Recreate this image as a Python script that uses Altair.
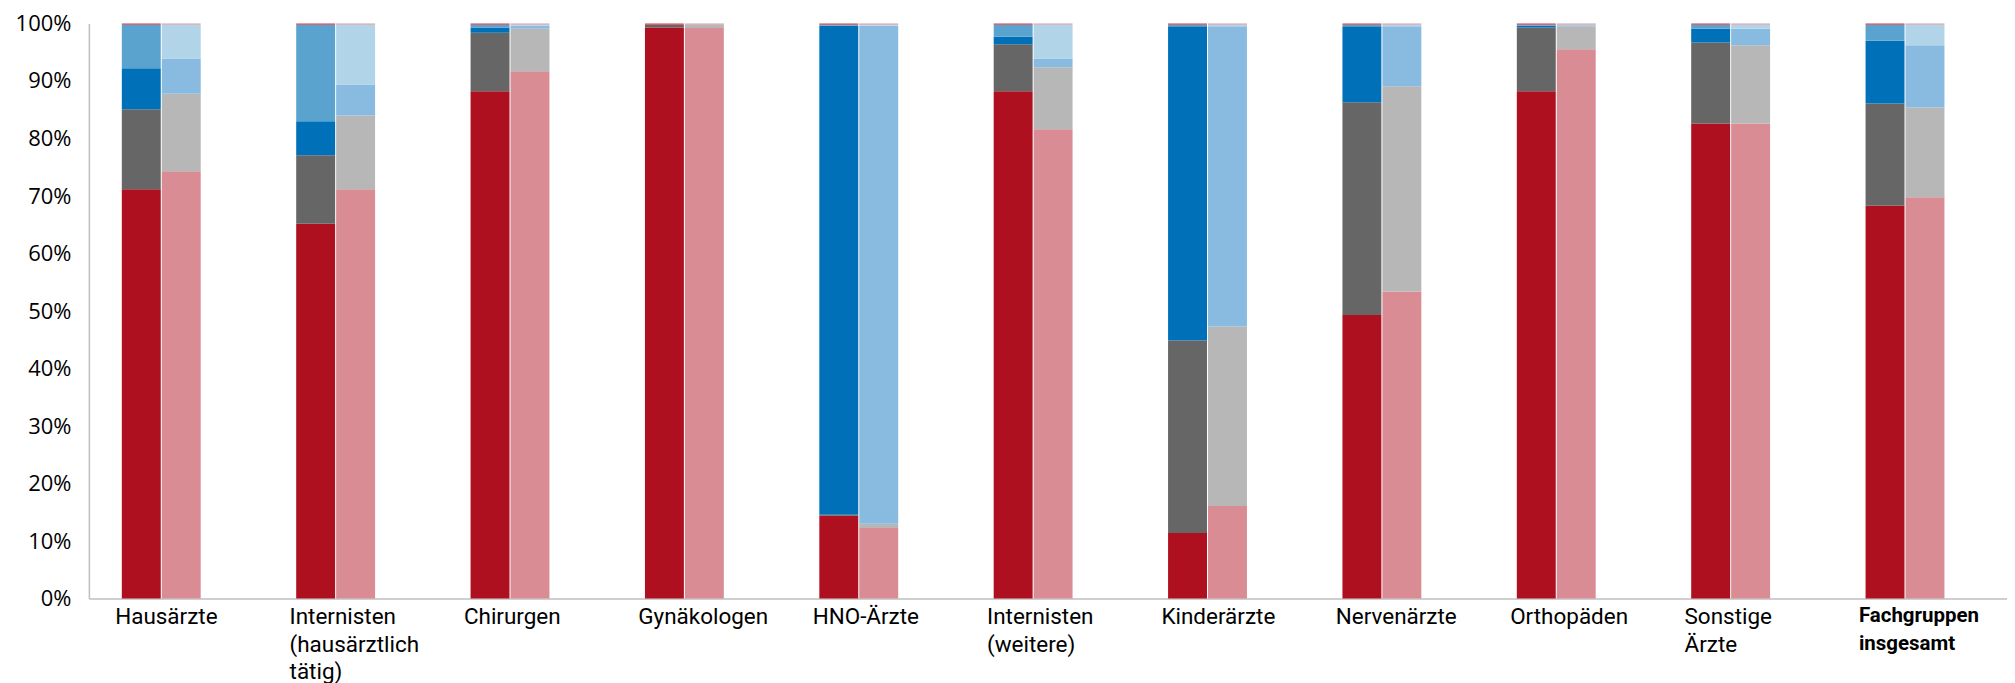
import altair as alt
import pandas as pd

categories = ["Hausärzte", "Internisten (hausärztlich tätig)", "Chirurgen", "Gynäkologen",
              "HNO-Ärzte", "Internisten (weitere)", "Kinderärzte", "Nervenärzte",
              "Orthopäden", "Sonstige Ärzte", "Fachgruppen insgesamt"]

# dark bars (left of each pair), segment values in percent, bottom to top
dark_a = [71.2, 65.2, 88.2, 99.3, 14.4, 88.2, 11.4, 49.3, 88.2, 82.6, 68.3]
dark_b = [13.9, 11.9, 10.2, 0.5, 0.2, 8.2, 33.5, 37.0, 11.1, 14.1, 17.8]
dark_c = [7.1, 5.9, 0.9, 0.0, 85.0, 1.3, 54.6, 13.2, 0.3, 2.4, 10.9]
dark_d = [7.6, 16.8, 0.5, 0.0, 0.2, 2.1, 0.3, 0.3, 0.2, 0.7, 2.8]
dark_e = [0.2, 0.2, 0.2, 0.2, 0.2, 0.2, 0.2, 0.2, 0.2, 0.2, 0.2]

# light bars (right of each pair)
light_a = [74.3, 71.2, 91.7, 99.2, 12.3, 81.6, 16.1, 53.4, 95.5, 82.6, 69.8]
light_b = [13.5, 12.8, 7.4, 0.6, 0.7, 10.8, 31.2, 35.7, 4.0, 13.6, 15.6]
light_c = [6.1, 5.4, 0.5, 0.0, 86.6, 1.5, 52.2, 10.4, 0.2, 2.9, 10.8]
light_d = [5.9, 10.4, 0.2, 0.0, 0.2, 5.9, 0.3, 0.3, 0.1, 0.7, 3.6]
light_e = [0.2, 0.2, 0.2, 0.2, 0.2, 0.2, 0.2, 0.2, 0.2, 0.2, 0.2]

segments = ["a", "b", "c", "d", "e"]
dark_colors = ["#ae1020", "#666666", "#0070b8", "#5ba3cf", "#c8414b"]
light_colors = ["#d98c94", "#b7b7b7", "#88bbdf", "#b2d4e8", "#d4a0aa"]

rows = []
for bar, series in [("dark", [dark_a, dark_b, dark_c, dark_d, dark_e]),
                    ("light", [light_a, light_b, light_c, light_d, light_e])]:
    for si, (seg, vals) in enumerate(zip(segments, series)):
        for cat, v in zip(categories, vals):
            rows.append({"Fachgruppe": cat, "bar": bar, "seg": seg, "idx": si,
                         "key": bar + "_" + seg, "value": v / 100.0})
df = pd.DataFrame(rows)

keys = ["dark_" + s for s in segments] + ["light_" + s for s in segments]
colors = dark_colors + light_colors

x_font = "Roboto, sans-serif"
y_font = "Open Sans, sans-serif"
bold_test = "datum.value == 'Fachgruppen insgesamt'"

chart = alt.Chart(df).mark_bar().encode(
    x=alt.X("Fachgruppe:N", sort=categories, title=None,
            scale=alt.Scale(paddingInner=0, paddingOuter=0),
            axis=alt.Axis(labelExpr="split(datum.label, ' ')", labelAlign="left",
                          labelBaseline="top", labelOffset=-61, labelPadding=7,
                          labelAngle=0, ticks=False, labelFont=x_font,
                          labelFontSize={"condition": {"test": bold_test, "value": 20.5}, "value": 22.5},
                          labelLineHeight=27.5, labelColor="#000000", labelOverlap=False,
                          labelFlush=False, labelLimit=300,
                          labelFontWeight={"condition": {"test": bold_test, "value": "bold"},
                                           "value": "normal"},
                          domainColor="#bfbfbf", domainWidth=1.5, grid=False)),
    xOffset=alt.XOffset("bar:N",
                        scale=alt.Scale(domain=["dark", "light", "_"], paddingInner=0.025,
                                        paddingOuter=0.6955, align=0.593)),
    y=alt.Y("value:Q", stack="zero", title=None,
            scale=alt.Scale(domain=[0, 1], nice=False),
            axis=alt.Axis(values=[i / 10 for i in range(11)], format=".0%", ticks=False,
                          labelPadding=18, labelFont=y_font, labelFontSize=22,
                          labelColor="#000000", grid=False, domainColor="#bfbfbf",
                          domainWidth=1.5)),
    color=alt.Color("key:N", scale=alt.Scale(domain=keys, range=colors), legend=None),
    order=alt.Order("idx:Q", sort="ascending"),
).properties(
    width=1921, height=576, autosize="none",
    padding={"left": 81, "top": 15, "right": 0, "bottom": 88}
).configure_view(strokeWidth=0)

chart.save("out.html", embed_options={"renderer": "svg", "actions": False})
